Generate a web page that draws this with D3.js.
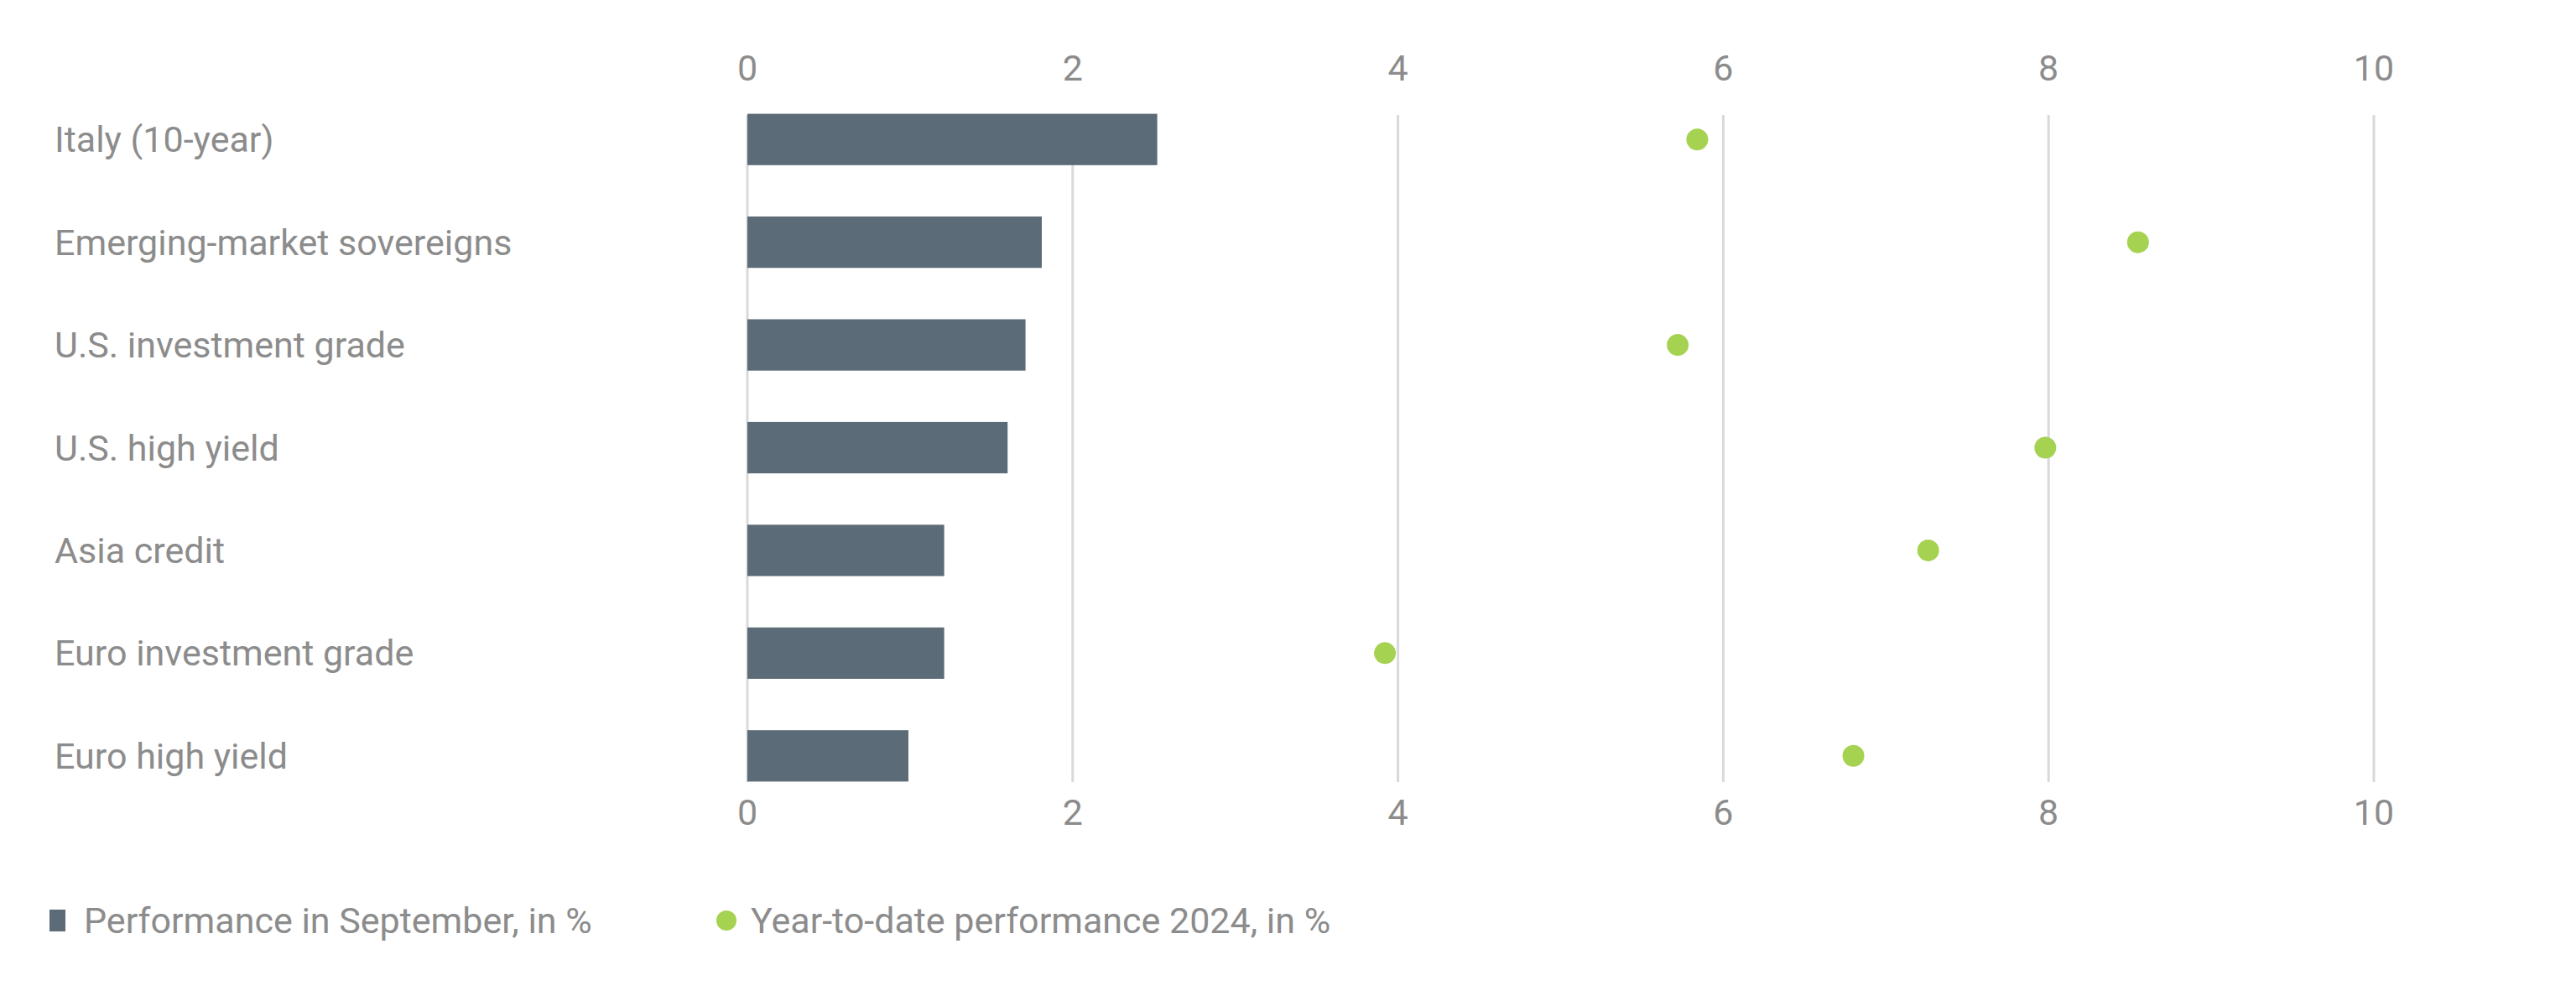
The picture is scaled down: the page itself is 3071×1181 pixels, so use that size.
<!DOCTYPE html>
<html>
<head>
<meta charset="utf-8">
<script src="https://cdn.jsdelivr.net/npm/d3@7"></script>
<style>
  body { margin: 0; background: #fff; }
  text { font-family: Roboto, "Liberation Sans", sans-serif; fill: #8c8c8c; }
</style>
</head>
<body>
<div id="svg-wrapper"></div>
<script>
// chart data
const categories = [
  "Italy (10-year)",
  "Emerging-market sovereigns",
  "U.S. investment grade",
  "U.S. high yield",
  "Asia credit",
  "Euro investment grade",
  "Euro high yield",
];
const september = [2.52, 1.81, 1.71, 1.6, 1.21, 1.21, 0.99];
const ytd = [5.84, 8.55, 5.72, 7.98, 7.26, 3.92, 6.8];
const xTicks = [0, 2, 4, 6, 8, 10];
const legendLabels = ["Performance in September, in %", "Year-to-date performance 2024, in %"];

const width = 3071, height = 1181;
const svg = d3.select("#svg-wrapper").append("svg")
  .attr("width", width).attr("height", height);

// scales
const x = d3.scaleLinear().domain([0, 10]).range([891, 2830]);
const y = d3.scaleBand().domain(categories).range([105, 962]).paddingInner(0.5).paddingOuter(0.25);

// gridlines
svg.append("g").selectAll("line").data(xTicks).enter().append("line")
  .attr("x1", d => x(d)).attr("x2", d => x(d))
  .attr("y1", 137).attr("y2", 932)
  .attr("stroke", "#d9d9d9").attr("stroke-width", 3);

// axes top and bottom
const fontSize = 43;
[[96, "top"], [983, "bottom"]].forEach(([yy]) => {
  svg.append("g").selectAll("text").data(xTicks).enter().append("text")
    .attr("x", d => x(d)).attr("y", yy)
    .attr("text-anchor", "middle")
    .style("font-size", fontSize + "px")
    .text(d => d);
});

// bars
svg.append("g").selectAll("rect").data(september).enter().append("rect")
  .attr("x", x(0))
  .attr("y", (d, i) => y(categories[i]))
  .attr("width", d => x(d) - x(0))
  .attr("height", y.bandwidth())
  .attr("fill", "#5b6b77");

// dots
svg.append("g").selectAll("circle").data(ytd).enter().append("circle")
  .attr("cx", d => x(d))
  .attr("cy", (d, i) => y(categories[i]) + y.bandwidth() / 2)
  .attr("r", 13)
  .attr("fill", "#a6d252");

// category labels
svg.append("g").selectAll("text").data(categories).enter().append("text")
  .attr("x", 65)
  .attr("y", d => y(d) + y.bandwidth() / 2)
  .attr("dy", "0.35em")
  .style("font-size", fontSize + "px")
  .text(d => d);

// legend
const lg = svg.append("g");
lg.append("rect").attr("x", 59).attr("y", 1084).attr("width", 19).attr("height", 26).attr("fill", "#5b6b77");
lg.append("text").attr("x", 100).attr("y", 1097).attr("dy", "0.35em")
  .style("font-size", fontSize + "px").text(legendLabels[0]);
lg.append("circle").attr("cx", 866).attr("cy", 1097).attr("r", 12).attr("fill", "#a6d252");
lg.append("text").attr("x", 895).attr("y", 1097).attr("dy", "0.35em")
  .style("font-size", fontSize + "px").text(legendLabels[1]);
</script>
</body>
</html>
